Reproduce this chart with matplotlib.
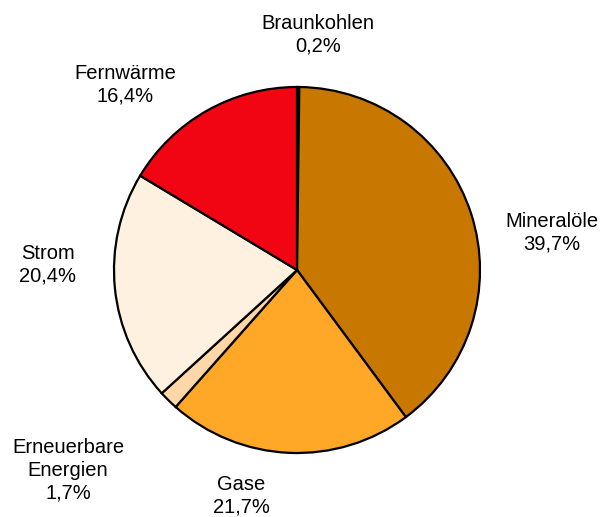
import matplotlib
matplotlib.use("Agg")
import matplotlib.pyplot as plt

plt.rcParams['font.family'] = ['Liberation Sans', 'DejaVu Sans']

# Anteile Endenergieverbrauch, im Uhrzeigersinn ab 12 Uhr
labels = ["Braunkohlen", "Mineralöle", "Gase", "Erneuerbare\nEnergien", "Strom", "Fernwärme"]
shares = [0.2, 39.7, 21.7, 1.7, 20.4, 16.4]
colors = ["#3a2000", "#C87800", "#FFA726", "#FDD7A8", "#FEF1DF", "#F20512"]

# label text centres (pixels, y from top)
label_pos = [(318, 35), (552, 233), (241, 496), (68, 470), (48, 265), (125, 85)]

W, H = 606, 517
fig = plt.figure(figsize=(W / 100, H / 100), dpi=100)
ax = fig.add_axes([0, 0, 1, 1])

ax.pie(shares, colors=colors, startangle=90, counterclock=False,
       center=(297, H - 270), radius=183, frame=True,
       wedgeprops=dict(edgecolor='black', linewidth=1.6))
ax.set_xlim(0, W)
ax.set_ylim(0, H)
ax.set_aspect('equal')
ax.axis('off')

for lab, val, (x, y) in zip(labels, shares, label_pos):
    txt = f"{lab}\n{val:.1f}%".replace('.', ',')
    ax.text(x, H - y, txt, ha='center', va='center', fontsize=14.5,
            linespacing=1.25, color='black')

fig.savefig("out.png", dpi=100)
